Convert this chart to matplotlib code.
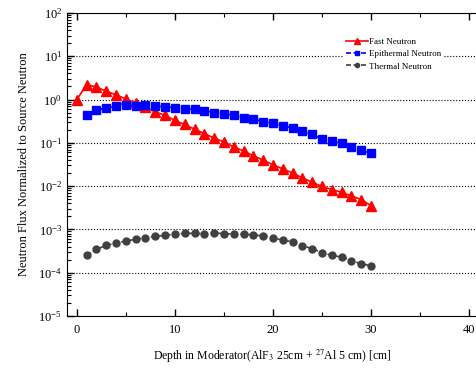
import numpy as np
import matplotlib.pyplot as plt
from matplotlib.ticker import LogLocator, MultipleLocator, NullFormatter

plt.rcParams['font.family'] = 'Liberation Serif'
plt.rcParams['mathtext.fontset'] = 'stix'

depth_fast = np.arange(0, 31)
fast = [1.0, 2.2, 1.95, 1.55, 1.28, 1.03, 0.83, 0.67, 0.52, 0.43,
        0.33, 0.265, 0.206, 0.164, 0.128, 0.105, 0.080, 0.065, 0.050, 0.040,
        0.031, 0.025, 0.020, 0.0155, 0.0123, 0.0098, 0.0083, 0.0072, 0.0059, 0.0049,
        0.0035]

depth = np.arange(1, 31)
epithermal = [0.45, 0.57, 0.64, 0.70, 0.73, 0.70, 0.73, 0.71, 0.67, 0.65,
              0.62, 0.59, 0.55, 0.50, 0.475, 0.43, 0.38, 0.35, 0.31, 0.28,
              0.25, 0.22, 0.185, 0.158, 0.12, 0.11, 0.097, 0.08, 0.067, 0.057]
thermal = [2.5e-4, 3.45e-4, 4.3e-4, 4.8e-4, 5.4e-4, 5.9e-4, 6.4e-4, 6.9e-4, 7.3e-4, 7.8e-4,
           8.1e-4, 8.1e-4, 7.9e-4, 8.35e-4, 7.9e-4, 7.9e-4, 7.9e-4, 7.3e-4, 7.2e-4, 6.4e-4,
           5.6e-4, 5.2e-4, 4.2e-4, 3.6e-4, 2.9e-4, 2.5e-4, 2.3e-4, 1.9e-4, 1.6e-4, 1.45e-4]

fig = plt.figure(figsize=(4.77, 3.70), dpi=100)
ax = fig.add_axes([0.1405, 0.146, 0.8595, 0.819])

ax.plot(depth_fast, fast, color='#ff0000', marker='^', ms=7, lw=1.2,
        label='Fast Neutron', zorder=3)
ax.plot(depth, epithermal, color='#0000ff', marker='s', ms=5.5, lw=1.2, ls='--',
        dashes=(3, 1.5), label='Epithermal Neutron', zorder=3)
ax.plot(depth, thermal, color='#404040', marker='o', ms=5, lw=1.2, ls='--',
        dashes=(3, 1.5), label='Thermal Neutron', zorder=3)

ax.set_yscale('log')
ax.set_ylim(1e-5, 1e2)
ax.set_xlim(-1, 40.8)
ax.yaxis.set_major_locator(LogLocator(base=10, numticks=10))
ax.yaxis.set_minor_locator(LogLocator(base=10, subs=np.arange(2, 10), numticks=10))
ax.yaxis.set_minor_formatter(NullFormatter())
ax.xaxis.set_major_locator(MultipleLocator(10))
ax.xaxis.set_minor_locator(MultipleLocator(5))

ax.grid(axis='y', which='major', color='black', ls=':', lw=0.8)
ax.spines['right'].set_visible(False)
ax.tick_params(which='both', direction='in', top=True, right=False, labelsize=9)
ax.tick_params(which='major', length=5, width=1)
ax.tick_params(which='minor', length=3, width=0.8)
ax.tick_params(axis='x', pad=6)

ax.set_xlabel(r'Depth in Moderator(AlF$_3$ 25cm + $^{27}$Al 5 cm) [cm]', fontsize=8.5, labelpad=8)
ax.set_ylabel('Neutron Flux Normalized to Source Neutron', fontsize=9, labelpad=6)

leg = ax.legend(loc='upper left', bbox_to_anchor=(0.665, 0.94), fontsize=6.5,
                frameon=True, edgecolor='white', facecolor='white', framealpha=1,
                handlelength=2.4, handletextpad=0.2, borderpad=0.2, labelspacing=0.45,
                markerscale=0.6, fancybox=False)
leg.get_frame().set_linewidth(0)

fig.savefig('out.png', dpi=100)
